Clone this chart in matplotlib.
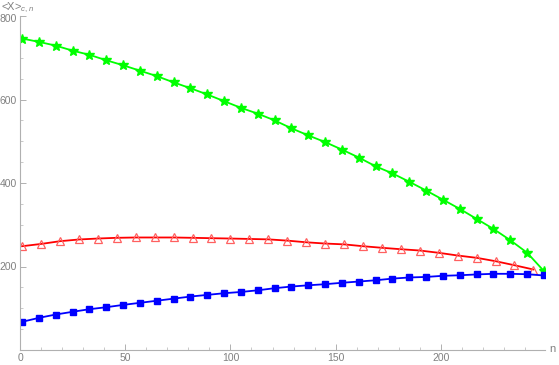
import numpy as np
import matplotlib
matplotlib.use("Agg")
import matplotlib.pyplot as plt
import matplotlib.transforms as mtransforms
from matplotlib.ticker import MultipleLocator

plt.rcParams["font.family"] = ["Liberation Sans", "DejaVu Sans"]
plt.rcParams["mathtext.fontset"] = "custom"
plt.rcParams["mathtext.it"] = "Liberation Sans:italic"
plt.rcParams["mathtext.rm"] = "Liberation Sans"

# sample positions
n_gb = [1, 9, 17, 25, 33, 41, 49, 57, 65, 73, 81, 89, 97, 105, 113, 121,
        129, 137, 145, 153, 161, 169, 177, 185, 193, 201, 209, 217, 225, 233, 241, 249]
n_red = [1, 10, 19, 28, 37, 46, 55, 64, 73, 82, 91, 100, 109, 118,
         127, 136, 145, 154, 163, 172, 181, 190, 199, 208, 217, 226, 235, 244]

green = [746, 738, 729, 717, 707, 694, 682, 669, 656, 641, 627, 612, 596, 580, 566, 550,
         531, 514, 498, 480, 461, 440, 423, 403, 382, 360, 338, 314, 290, 263, 233, 189]
blue = [67.5, 77, 85, 91.5, 97.7, 102.5, 108, 113, 118, 123, 128, 132, 136, 139, 143, 148,
        152, 155, 157.6, 161, 164, 167, 171, 173.7, 175, 177.7, 179, 181, 182.5, 182.5, 181.5, 178.5]
red = [248.6, 254, 260.6, 264.7, 267, 268.7, 269.5, 269.5, 269.5, 268.7, 267.8, 267, 266, 265,
       262, 258, 255, 253, 248.6, 244.8, 241.4, 238.3, 232.8, 226.3, 220.8, 212.7, 203, 192.8]

W, H = 559, 365
fig = plt.figure(figsize=(W / 100, H / 100), dpi=100)
ax = fig.add_axes([20 / W, 15 / H, (545 - 20) / W, (350.5 - 16.5) / H])

ax.plot(n_gb, green, color="#00ff00", lw=1.3, marker="*", ms=7, mec="#00ff00", mfc="#00ff00")
ax.plot(n_red, red, color="#ff0000", lw=1.3, marker="^", ms=5.5, mfc="none",
        mec="#ff6060", mew=0.9)
ax.plot(n_gb, blue, color="#0000ff", lw=1.3, marker="s", ms=4.5, mec="#0000ff", mfc="#0000ff")

ax.set_xlim(0, 249.5)
ax.set_ylim(0, 800)

for s in ["top", "right"]:
    ax.spines[s].set_visible(False)
for s in ["left", "bottom"]:
    ax.spines[s].set_color("#b0b0b0")
    ax.spines[s].set_linewidth(0.8)

ax.xaxis.set_major_locator(MultipleLocator(50))
ax.xaxis.set_minor_locator(MultipleLocator(10))
ax.yaxis.set_major_locator(MultipleLocator(200))
ax.yaxis.set_minor_locator(MultipleLocator(50))
ax.tick_params(which="major", direction="in", length=4, width=0.7, color="#b0b0b0",
               labelsize=7.5, labelcolor="#808080", pad=2)
ax.tick_params(which="minor", direction="in", length=2, width=0.6, color="#c0c0c0")
ax.set_yticks([200, 400, 600, 800])
ax.set_yticklabels(["200", "400", "600", "800"])

# nudge the top tick label down a touch, as in the reference
top_lab = ax.get_yticklabels()[-1]
top_lab.set_transform(top_lab.get_transform() +
                      mtransforms.ScaledTranslation(0, -2 / 100, fig.dpi_scale_trans))

fig.text(1 / W, 1 - 1 / H, r"<X>$_{c,n}$", color="#808080", fontsize=8, va="top", ha="left")
fig.text(549 / W, 1 - 349 / H, "n", color="#808080", fontsize=8, va="center", ha="left")

fig.savefig("out.png", dpi=100)
